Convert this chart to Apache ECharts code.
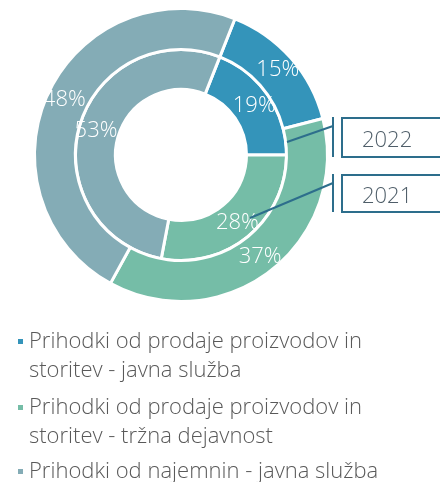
<!DOCTYPE html>
<html>
<head>
<meta charset="utf-8">
<script src="https://cdn.jsdelivr.net/npm/echarts@6/dist/echarts.min.js"></script>
<style>
  html, body { margin: 0; padding: 0; background: #fff; }
  #chart { width: 440px; height: 482px; }
</style>
</head>
<body>
<div id="chart"></div>
<script>
// podatki
var categories = [
  "Prihodki od prodaje proizvodov in storitev - javna služba",
  "Prihodki od prodaje proizvodov in storitev - tržna dejavnost",
  "Prihodki od najemnin - javna služba"
];
var values2021 = [19, 28, 53]; // notranji obroč
var values2022 = [15, 37, 48]; // zunanji obroč
var years = ["2022", "2021"];
var colors = ["#3494BA", "#75BDA7", "#84ACB6"];

var font = "Open Sans";
var calloutColor = "#2D6E8C";

var myChart = echarts.init(document.getElementById("chart"));

function ringData(values) {
  return categories.map(function (name, i) {
    return { name: name, value: values[i] };
  });
}

function ring(name, radius, values) {
  return {
    name: name,
    type: "pie",
    center: [181, 155],
    radius: radius,
    startAngle: 68.4,
    clockwise: true,
    silent: true,
    itemStyle: { borderColor: "#fff", borderWidth: 3 },
    label: {
      position: "inside",
      formatter: "{c}%",
      color: "#fff",
      fontFamily: font,
      fontWeight: 300,
      fontSize: 22
    },
    labelLine: { show: false },
    data: ringData(values)
  };
}

// legenda: vsak element posebej, da je kvadratek ob prvi vrstici
// (prazna prva vrstica premakne besedilo navzdol)
function legendItem(i, top, twoLines) {
  return {
    orient: "vertical",
    left: 16,
    top: top,
    padding: 0,
    icon: "rect",
    itemWidth: 7,
    itemHeight: 7,
    selectedMode: false,
    data: [categories[i]],
    formatter: function (name) {
      return twoLines ? " \n" + name.replace(" storitev", "\nstoritev") : name;
    },
    textStyle: {
      color: "#595959",
      fontFamily: font,
      fontWeight: 300,
      fontSize: 22,
      lineHeight: 29
    }
  };
}

function callout(text, boxTop, boxH, from) {
  return [
    {
      type: "rect",
      z: 10,
      shape: { x: 342, y: boxTop, width: 120, height: boxH },
      style: { fill: "#fff", stroke: calloutColor, lineWidth: 2 }
    },
    {
      type: "line",
      z: 10,
      shape: { x1: 333, y1: boxTop - 1, x2: 333, y2: boxTop + boxH },
      style: { stroke: calloutColor, lineWidth: 2 }
    },
    {
      type: "line",
      z: 10,
      shape: { x1: from[0], y1: from[1], x2: 333, y2: boxTop + 8 },
      style: { stroke: calloutColor, lineWidth: 2 }
    },
    {
      type: "text",
      z: 11,
      style: {
        text: text,
        x: 362,
        y: boxTop + boxH / 2 + 3,
        verticalAlign: "middle",
        fill: "#4F5E69",
        font: "300 22px '" + font + "'"
      }
    }
  ];
}

var option = {
  color: colors,
  animation: false,
  legend: [
    legendItem(0, 298, true),
    legendItem(1, 364, true),
    legendItem(2, 457, false)
  ],
  graphic: callout(years[0], 118, 39, [287, 142]).concat(
    callout(years[1], 175, 37, [250, 218])
  ),
  series: [
    ring(years[1], [65.5, 105.5], values2021),
    ring(years[0], [105.5, 146.5], values2022)
  ]
};

myChart.setOption(option);
</script>
</body>
</html>
